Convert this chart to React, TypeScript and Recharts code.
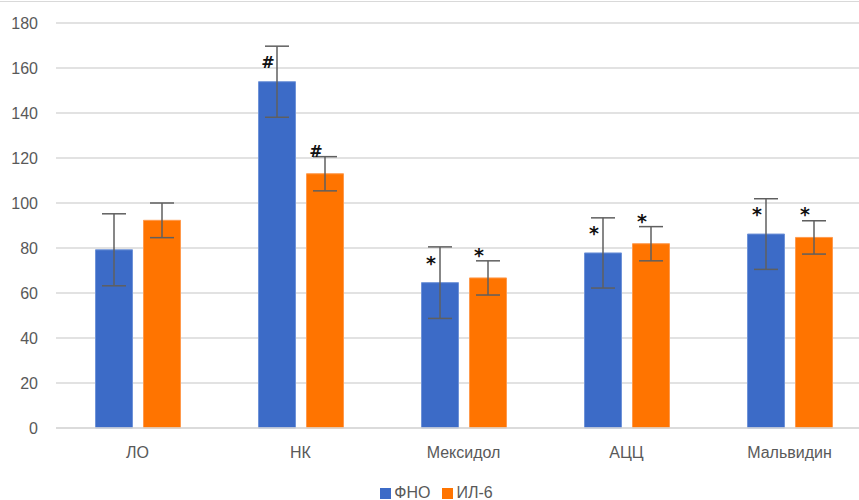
import React from "react";
import {
  BarChart,
  Bar,
  XAxis,
  YAxis,
  CartesianGrid,
  ErrorBar,
  LabelList,
  Legend,
} from "recharts";

// Groups on the x axis
const categories = ["ЛО", "НК", "Мексидол", "АЦЦ", "Мальвидин"];

// ФНО: mean and error
const tnfMean = [79.2, 153.9, 64.6, 77.8, 86.2];
const tnfErr = [16, 15.8, 15.9, 15.6, 15.7];

// ИЛ-6: mean and error
const il6Mean = [92.3, 113.0, 66.7, 81.9, 84.7];
const il6Err = [7.7, 7.6, 7.6, 7.6, 7.4];

// significance marks above the bars
const tnfMarks = ["", "#", "*", "*", "*"];
const il6Marks = ["", "#", "*", "*", "*"];

const yTicks = [0, 20, 40, 60, 80, 100, 120, 140, 160, 180];

const BLUE = "#3c6bc7";
const ORANGE = "#ff7400";
const TEXT = "#595959";
const GRID = "#d9d9d9";
const FONT = "'Liberation Sans', Arial, sans-serif";
const MARK_FONT = "'DejaVu Sans', sans-serif";

const data = categories.map((name, i) => ({
  name,
  tnf: tnfMean[i],
  tnfErr: tnfErr[i],
  tnfMark: tnfMarks[i],
  il6: il6Mean[i],
  il6Err: il6Err[i],
  il6Mark: il6Marks[i],
}));

const makeMark = (lift: number) => (props: any) => {
  const { x, y, width, value } = props;
  if (!value) return null;
  const isStar = value === "*";
  return (
    <text
      x={Number(x) + Number(width) / 2 - 9}
      y={Number(y) - lift + (isStar ? 6 : 5)}
      textAnchor="middle"
      fontFamily={MARK_FONT}
      fontWeight="bold"
      fontSize={isStar ? 19 : 16}
      fill="#111"
    >
      {value}
    </text>
  );
};

const renderLegend = () => (
  <div
    style={{
      position: "relative",
      top: 14,
      display: "flex",
      justifyContent: "center",
      gap: 12,
      fontFamily: FONT,
      fontSize: 16,
      color: TEXT,
      paddingLeft: 2,
    }}
  >
    {[
      { label: "ФНО", color: BLUE },
      { label: "ИЛ-6", color: ORANGE },
    ].map((it) => (
      <span key={it.label} style={{ display: "flex", alignItems: "center" }}>
        <span
          style={{
            display: "inline-block",
            width: 11,
            height: 11,
            background: it.color,
            marginRight: 3,
          }}
        />
        {it.label}
      </span>
    ))}
  </div>
);

export default function App() {
  return (
    <div
      style={{
        position: "fixed",
        left: 0,
        top: 0,
        width: 859,
        height: 500,
        overflow: "hidden",
        background: "#fff",
      }}
    >
      <div
        style={{
          position: "absolute",
          left: 0,
          top: 1,
          width: 859,
          height: 0,
          borderTop: `1.5px solid ${GRID}`,
        }}
      />
      <BarChart
        width={880}
        height={500}
        data={data}
        margin={{ top: 23, right: 9, left: 0, bottom: 0 }}
        barCategoryGap={39.5}
        barGap={11}
      >
        <CartesianGrid
          vertical={false}
          stroke={GRID}
          strokeWidth={1.5}
        />
        <XAxis
          dataKey="name"
          axisLine={{ stroke: GRID, strokeWidth: 1.5 }}
          tickLine={false}
          tickMargin={13}
          height={42}
          tick={{ fill: TEXT, fontSize: 16, fontFamily: FONT }}
        />
        <YAxis
          width={56}
          domain={[0, 180]}
          ticks={yTicks}
          axisLine={false}
          tickLine={false}
          tickMargin={12}
          tick={{ fill: TEXT, fontSize: 16, fontFamily: FONT }}
        />
        <Legend verticalAlign="bottom" height={30} content={renderLegend} />
        <Bar
          dataKey="tnf"
          name="ФНО"
          fill={BLUE}
          stroke="#6f93d8"
          strokeWidth={1}
          isAnimationActive={false}
        >
          <ErrorBar
            dataKey="tnfErr"
            width={12}
            stroke="#5f5f5f"
            strokeWidth={1.5}
          />
          <LabelList dataKey="tnfMark" content={makeMark(19)} />
        </Bar>
        <Bar
          dataKey="il6"
          name="ИЛ-6"
          fill={ORANGE}
          stroke="#ff9a4d"
          strokeWidth={1}
          isAnimationActive={false}
        >
          <ErrorBar
            dataKey="il6Err"
            width={12}
            stroke="#5f5f5f"
            strokeWidth={1.5}
          />
          <LabelList dataKey="il6Mark" content={makeMark(22)} />
        </Bar>
      </BarChart>
    </div>
  );
}
